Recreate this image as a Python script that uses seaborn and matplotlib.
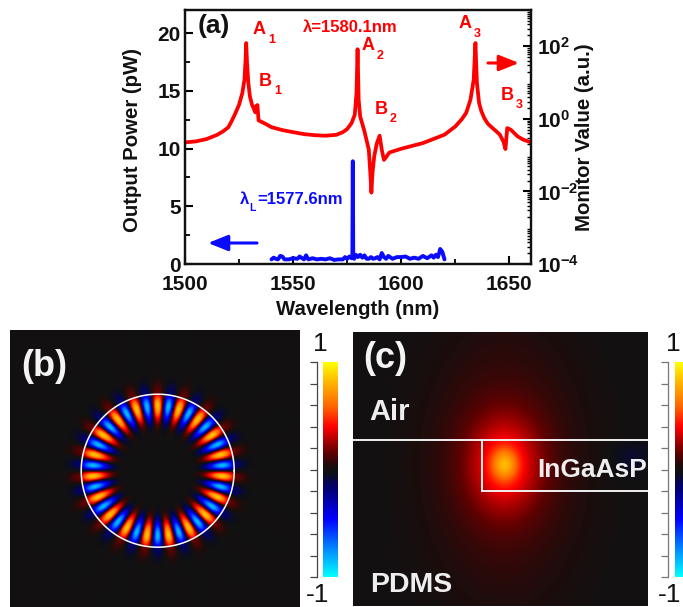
import numpy as np
import pandas as pd
import matplotlib
matplotlib.use("Agg")
import matplotlib.pyplot as plt
from matplotlib.colors import LinearSegmentedColormap
import seaborn as sns

sns.set_theme(style="white")
plt.rcParams['font.family'] = ['Liberation Sans', 'DejaVu Sans']
plt.rcParams['mathtext.fontset'] = 'custom'
plt.rcParams['mathtext.rm'] = 'Liberation Sans:bold'
plt.rcParams['mathtext.it'] = 'Liberation Sans:bold'
plt.rcParams['mathtext.bf'] = 'Liberation Sans:bold'
plt.rcParams['mathtext.default'] = 'bf'

# ---- panel (a) data ----
monitor_wl = [1500, 1505, 1510, 1515, 1517.5, 1520, 1521.5, 1523, 1525, 1526.5, 1527.5, 1528, 1528.3, 1528.7, 1529.3, 1530,
              1531, 1532, 1532.5, 1533, 1533.5, 1534, 1535.5, 1537, 1540, 1545, 1550, 1555, 1560, 1565, 1570, 1573,
              1575, 1577, 1578.5, 1579.3, 1579.8, 1580.3, 1581, 1583, 1585, 1585.7, 1586.2, 1586.7, 1587.5,
              1588.7, 1590, 1591, 1592, 1594.6, 1600, 1610, 1620, 1625, 1628, 1630, 1631, 1632, 1633.5, 1634.3, 1635,
              1636, 1637, 1638.4, 1640, 1642.2, 1644, 1645.6, 1647.2, 1648.2, 1649, 1650.7, 1653.8, 1656.5, 1660]
monitor_val = [0.225, 0.239, 0.278, 0.366, 0.45, 0.582, 0.85, 1.30, 2.45, 5.13, 12, 42.6, 123, 34.6, 9.7, 4.17,
               2.45, 1.78, 1.51, 2.29, 2.4, 0.91, 0.82, 0.74, 0.59, 0.49, 0.43, 0.38, 0.355, 0.343, 0.363, 0.43,
               0.525, 0.76, 1.29, 5.1, 83, 3.4, 1.17, 0.45, 0.14, 0.032, 0.0093, 0.032, 0.093,
               0.21, 0.343, 0.14, 0.074, 0.119, 0.15, 0.215, 0.366, 0.617, 0.98, 1.45, 2.2, 3.37, 12, 123, 9.7,
               2.72, 1.65, 1.05, 0.74, 0.557, 0.45, 0.366, 0.24, 0.147, 0.557, 0.50, 0.329, 0.265, 0.225]

power_wl = [1540, 1541, 1542, 1543, 1544, 1545, 1546, 1548, 1550, 1552, 1553, 1555, 1556, 1557, 1559, 1561,
            1563, 1565, 1567, 1569, 1571, 1573, 1574, 1575, 1576, 1577, 1577.4, 1577.6, 1577.8, 1578.2,
            1579, 1580, 1581, 1582, 1583, 1584, 1585, 1586, 1587, 1588, 1589, 1590, 1591, 1592, 1593,
            1594, 1596, 1598, 1600, 1602, 1604, 1606, 1608, 1610, 1612, 1614, 1615, 1616, 1617, 1618,
            1619, 1620]
power_val = [0.4, 0.55, 0.45, 0.4, 0.7, 0.65, 0.4, 0.4, 0.5, 0.45, 0.65, 0.4, 0.75, 0.4, 0.5, 0.4,
             0.45, 0.4, 0.5, 0.35, 0.4, 0.4, 0.6, 0.45, 0.65, 0.5, 0.75, 8.9, 0.75, 0.45,
             0.8, 0.6, 0.8, 0.55, 0.75, 0.45, 0.45, 0.6, 0.45, 0.5, 0.6, 0.4, 0.95, 0.6, 0.45,
             0.7, 0.45, 0.6, 0.6, 0.65, 0.45, 0.55, 0.45, 0.7, 0.5, 0.75, 0.55, 0.8, 0.6, 1.3, 1.05, 0.4]

wl_ticks = [1500, 1550, 1600, 1650]
power_ticks = [0, 5, 10, 15, 20]
monitor_ticks = [1e-4, 1e-2, 1e0, 1e2]
monitor_tick_labels = [r'10$^{\mathbf{-4}}$', r'10$^{\mathbf{-2}}$', r'10$^{\mathbf{0}}$', r'10$^{\mathbf{2}}$']

# ---- panel (b) mode parameters ----
ring_lobes = 19
ring_radius = 76.5       # px, white circle
ring_center_px = (157.7, 470.7)

# ---- panel (c) mode parameters ----
spot_center_px = (504.5, 464.5)

W, H = 683, 607
fig = plt.figure(figsize=(W / 100, H / 100), dpi=100, facecolor='white')


def box(l, t, r, b):
    return [l / W, 1 - b / H, (r - l) / W, (b - t) / H]


RED, BLUE = '#ff0000', '#0a0aff'
INK = '#111111'

# ================ panel (a) ================
ax = fig.add_axes(box(185, 10, 531, 264))
df_p = pd.DataFrame({'wl': power_wl, 'p': power_val})
sns.lineplot(data=df_p, x='wl', y='p', ax=ax, color=BLUE, lw=2.8, errorbar=None, estimator=None, sort=False)
ax.set_xlim(1500, 1660)
ax.set_ylim(0, 22)
ax.set_xticks(wl_ticks)
ax.set_xticks([1525, 1575, 1625], minor=True)
ax.set_yticks(power_ticks)
ax.set_yticks([2.5, 7.5, 12.5, 17.5], minor=True)
ax.tick_params(axis='x', which='major', length=6, width=1.5, direction='in', color='black', pad=8, bottom=True)
ax.tick_params(axis='y', which='major', length=6, width=1.5, direction='in', color='black', pad=3, left=True)
ax.tick_params(axis='both', which='minor', length=3.5, width=1.3, direction='in', color='black', bottom=True, left=True)
for lab_ in ax.get_xticklabels() + ax.get_yticklabels():
    lab_.set_fontsize(15)
    lab_.set_fontweight('bold')
    lab_.set_color(INK)
ax.set_xlabel('Wavelength (nm)', fontsize=14.7, fontweight='bold', color=INK)
ax.xaxis.set_label_coords(0.5, -0.142)
ax.set_ylabel('Output Power (pW)', fontsize=14.7, fontweight='bold', color=INK)
ax.yaxis.set_label_coords(-0.125, 0.488)
for s in ax.spines.values():
    s.set_linewidth(1.6)
    s.set_color(INK)

ax2 = ax.twinx()
df_m = pd.DataFrame({'wl': monitor_wl, 'm': monitor_val})
sns.lineplot(data=df_m, x='wl', y='m', ax=ax2, color=RED, lw=2.7, errorbar=None, estimator=None, sort=False)
ax2.set_yscale('log')
ax2.set_ylim(1e-4, 1e3)
ax2.set_xlim(1500, 1660)
ax2.set_ylabel('Monitor Value (a.u.)', fontsize=14.7, fontweight='bold', color=INK)
ax2.yaxis.set_label_coords(1.127, 0.498)
ax2.set_yticks(monitor_ticks)
ax2.set_yticklabels(monitor_tick_labels)
ax2.set_yticks([10.0 ** e * f for e in range(-4, 3) for f in range(2, 10)], minor=True)
ax2.set_yticklabels([], minor=True)
ax2.tick_params(axis='y', which='major', length=6, width=1.5, direction='in', color='black', pad=4, right=True)
ax2.tick_params(axis='y', which='minor', length=3, width=1.0, direction='in', color='black', right=True)
for lab_ in ax2.get_yticklabels():
    lab_.set_fontsize(15)
    lab_.set_fontweight('bold')
    lab_.set_color(INK)
for s in ax2.spines.values():
    s.set_linewidth(1.6)
    s.set_color(INK)


def lab(x, y, s, c=RED, fs=13, ha='left'):
    fig.text(x / W, 1 - y / H, s, color=c, fontsize=fs, fontweight='bold', ha=ha, va='center')


def sub(x, y, a, b):
    lab(x, y, a, fs=13)
    lab(x + 15, y + 10, b, fs=9)


lab(198, 26, '(a)', c=INK, fs=19)
sub(253, 30, 'A', '1')
sub(259, 81, 'B', '1')
sub(362, 46, 'A', '2')
sub(375, 109, 'B', '2')
sub(459, 24, 'A', '3')
sub(501, 95, 'B', '3')
lab(303, 27, 'λ=1580.1nm', fs=12)
lab(240, 200, 'λ', c=BLUE, fs=12)
lab(249, 208, 'L', c=BLUE, fs=7.5)
lab(257, 200, '=1577.6nm', c=BLUE, fs=12)

arrow_ax = fig.add_axes([0, 0, 1, 1], facecolor='none')
arrow_ax.set_xlim(0, W)
arrow_ax.set_ylim(H, 0)
arrow_ax.axis('off')
arrow_ax.annotate('', xy=(208, 243), xytext=(257, 243),
                  arrowprops=dict(arrowstyle='-|>,head_length=0.75,head_width=0.3', color=BLUE, lw=2.2, mutation_scale=16, shrinkA=0, shrinkB=0))
arrow_ax.annotate('', xy=(519, 63), xytext=(488, 63),
                  arrowprops=dict(arrowstyle='-|>,head_length=0.75,head_width=0.3', color=RED, lw=2.2, mutation_scale=16, shrinkA=0, shrinkB=0))

# ================ field colormap ================
field_cmap = LinearSegmentedColormap.from_list('field', [
    (0.00, '#00ffff'), (0.12, '#0090ff'), (0.27, '#0000ff'), (0.42, '#00006a'), (0.485, '#0e0e18'),
    (0.50, '#111111'), (0.515, '#1c0c0c'), (0.58, '#600000'), (0.70, '#ff0000'), (0.80, '#ff6a00'), (0.90, '#ffb000'), (1.00, '#ffff00')])
heat = dict(cmap=field_cmap, vmin=-1, vmax=1, cbar=False, xticklabels=False, yticklabels=False, rasterized=True)


def bar(bar_box, scale_x, scale_t, scale_b, col, t1, t2):
    cax = fig.add_axes(box(*bar_box))
    grad = np.linspace(1, -1, 256)[:, None]
    sns.heatmap(pd.DataFrame(grad), ax=cax, **heat)
    sc = fig.add_axes(box(scale_x, scale_t, scale_x + 4, scale_b), facecolor='none')
    sc.set_ylim(-1, 1)
    sc.set_xticks([])
    sc.set_yticks(np.linspace(-1, 1, 11))
    sc.set_yticklabels([])
    sc.tick_params(axis='y', left=True, length=4.8, width=0.9, color=col, direction='out')
    for k, s in sc.spines.items():
        s.set_visible(k == 'left')
        s.set_color(col)
        s.set_linewidth(0.9)
    fig.text(t1[0] / W, 1 - t1[1] / H, '1', fontsize=19, color=INK, ha='center', va='baseline')
    fig.text(t2[0] / W, 1 - t2[1] / H, '-1', fontsize=19, color=INK, ha='center', va='baseline')


# ================ panel (b) ================
L, T, R, B = 10, 330, 300, 607
axb = fig.add_axes(box(L, T, R, B))
x = np.arange(L, R, 1.0) + 0.5
y = np.arange(T, B, 1.0) + 0.5
XX, YY = np.meshgrid(x, y)
dx, dy = XX - ring_center_px[0], ring_center_px[1] - YY
rr = np.hypot(dx, dy)
th = np.arctan2(dy, dx)
rel = rr / ring_radius
radial = np.select([rel < 0.85, rel < 1.0],
                   [0.85 * np.exp(-((rel - 0.85) / 0.19) ** 2), 0.85 * np.exp(-((rel - 0.85) / 0.16) ** 2)],
                   0.17 * np.exp(-((rel - 1).clip(0) / 0.15) ** 2))
fieldb = radial * np.cos(ring_lobes * (th - np.pi / 2))
sns.heatmap(pd.DataFrame(fieldb), ax=axb, **heat)
axb.set_xticks([]); axb.set_yticks([])
tt = np.linspace(0, 2 * np.pi, 400)
axb.plot(ring_center_px[0] - L + ring_radius * np.cos(tt), ring_center_px[1] - T + ring_radius * np.sin(tt), color='white', lw=1.1)
axb.text(11, 36, '(b)', color='#f4f4f4', fontsize=26, fontweight='bold', va='center')
bar((323, 362, 338, 577), 316.5, 362, 577, '#444444', (320, 351), (318, 602))

# ================ panel (c) ================
L, T, R, B = 353, 332, 648, 606
axc = fig.add_axes(box(L, T, R, B))
x = np.arange(L, R, 1.0) + 0.5
y = np.arange(T, B, 1.0) + 0.5
XX, YY = np.meshgrid(x, y)
u, v = XX - spot_center_px[0], YY - spot_center_px[1]
core = 0.36 * np.exp(-(u / 13) ** 2 - (v / 16) ** 2)
halo = 0.33 * np.exp(-(u / 36) ** 2 - (v / 48) ** 2)
wide = 0.13 * np.exp(-(u / 70) ** 2 - (v / 120) ** 2)
neg = -0.07 * np.exp(-((XX - 632) / 20) ** 2 - ((YY - 458) / 18) ** 2) * ((YY > 441) & (YY < 490))
fieldc = core + halo + wide + neg
sns.heatmap(pd.DataFrame(fieldc), ax=axc, **heat)
axc.set_xticks([]); axc.set_yticks([])
line = dict(color='#f0f0f0', lw=1.4)
axc.plot([0, 295], [108, 108], **line)
axc.plot([129, 129], [108, 159], **line)
axc.plot([129, 295], [159, 159], **line)
axc.text(16, 80, 'Air', color='#eeeeee', fontsize=21, fontweight='bold', va='center')
axc.text(184, 138, 'InGaAsP', color='#eeeeee', fontsize=19, fontweight='bold', va='center')
axc.text(17, 253, 'PDMS', color='#eeeeee', fontsize=20.5, fontweight='bold', va='center')
axc.text(10, 27, '(c)', color='#f4f4f4', fontsize=26, fontweight='bold', va='center')
bar((675, 362, 692, 577), 668, 362, 577, '#777777', (673, 351), (670, 602))

fig.savefig('out.png', dpi=100)
